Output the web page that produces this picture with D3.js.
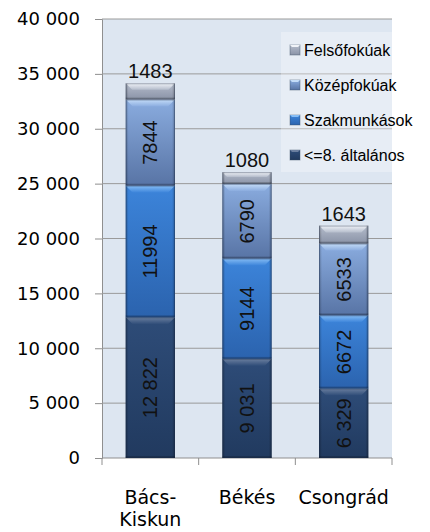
<!DOCTYPE html>
<html>
<head>
<meta charset="utf-8">
<script src="https://cdn.jsdelivr.net/npm/d3@7"></script>
<style>
  html, body { margin: 0; padding: 0; background: #fff; }
  svg { display: block; }
</style>
</head>
<body>
<svg width="430" height="532"></svg>
<script>
// megyék és végzettség szerinti létszámok
const categories = [["Bács-", "Kiskun"], ["Békés"], ["Csongrád"]];
const seriesNames = ["<=8. általános", "Szakmunkások", "Középfokúak", "Felsőfokúak"];
const altalanos = [12822, 9031, 6329];
const szakmunkas = [11994, 9144, 6672];
const kozepfoku = [7844, 6790, 6533];
const felsofoku = [1483, 1080, 1643];
const yTicks = [0, 5000, 10000, 15000, 20000, 25000, 30000, 35000, 40000];

const values = [altalanos, szakmunkas, kozepfoku, felsofoku];

// színek: [felső fény, test teteje, test alja]
const colors = [
  ["#6b7f9f", "#2e4c78", "#213a5f"],
  ["#86bdf5", "#3c84da", "#2b63ae"],
  ["#c4dcf8", "#8aacdf", "#5874a5"],
  ["#f0f3f8", "#b4bccb", "#8a93a7"]
];

const svg = d3.select("svg");
const width = 430, height = 532;
const margin = { top: 19, right: 38, bottom: 74, left: 102 };
const innerW = width - margin.left - margin.right;
const innerH = height - margin.top - margin.bottom;

const defs = svg.append("defs");
colors.forEach((c, i) => {
  const g = defs.append("linearGradient").attr("id", "body" + i)
    .attr("x1", 0).attr("x2", 0).attr("y1", 0).attr("y2", 1);
  g.append("stop").attr("offset", "0%").attr("stop-color", c[1]);
  g.append("stop").attr("offset", "100%").attr("stop-color", c[2]);
  const b = defs.append("linearGradient").attr("id", "bevel" + i)
    .attr("x1", 0).attr("x2", 0).attr("y1", 0).attr("y2", 1);
  b.append("stop").attr("offset", "0%").attr("stop-color", c[0]);
  b.append("stop").attr("offset", "100%").attr("stop-color", c[1]);
  const s = defs.append("linearGradient").attr("id", "side" + i)
    .attr("x1", 0).attr("x2", 1).attr("y1", 0).attr("y2", 0);
  s.append("stop").attr("offset", "0%").attr("stop-color", "#000").attr("stop-opacity", 0.25);
  s.append("stop").attr("offset", "6%").attr("stop-color", "#000").attr("stop-opacity", 0);
  s.append("stop").attr("offset", "94%").attr("stop-color", "#000").attr("stop-opacity", 0);
  s.append("stop").attr("offset", "100%").attr("stop-color", "#000").attr("stop-opacity", 0.25);
});

const g = svg.append("g").attr("transform", `translate(${margin.left},${margin.top})`);

const x = d3.scaleBand().domain(d3.range(categories.length)).range([0, innerW]).padding(0);
const y = d3.scaleLinear().domain([0, 40000]).range([innerH, 0]);
const barW = x.bandwidth() * 0.51;

// háttér
g.append("rect").attr("width", innerW).attr("height", innerH).attr("fill", "#dde6f1");

// rácsvonalak + tengely
const fmtSpace = d => d3.format(",")(d).replace(/,/g, " ");
g.append("g")
  .call(d3.axisLeft(y).tickValues(yTicks).tickSize(7).tickFormat(fmtSpace))
  .call(a => a.select(".domain").attr("stroke", "#8f8f8f"))
  .call(a => a.selectAll(".tick line").attr("stroke", "#8f8f8f"))
  .call(a => a.selectAll(".tick text")
    .attr("x", -22)
    .style("font-family", "DejaVu Sans")
    .style("font-size", "18px")
    .attr("fill", "#000"));

g.append("g").selectAll("line")
  .data(yTicks.filter(t => t > 0))
  .join("line")
  .attr("x1", 0).attr("x2", innerW)
  .attr("y1", d => y(d)).attr("y2", d => y(d))
  .attr("stroke", "#9a9a9a").attr("stroke-width", 1);

const xAxis = g.append("g").attr("transform", `translate(0,${innerH})`);
xAxis.append("line").attr("x1", 0).attr("x2", innerW).attr("stroke", "#8f8f8f");
xAxis.selectAll("line.tk")
  .data(d3.range(categories.length + 1))
  .join("line").attr("class", "tk")
  .attr("x1", d => d * x.step()).attr("x2", d => d * x.step())
  .attr("y1", 0).attr("y2", 7)
  .attr("stroke", "#8f8f8f");

xAxis.selectAll("text.cat")
  .data(categories)
  .join("text").attr("class", "cat")
  .attr("x", (d, i) => x(i) + x.bandwidth() / 2)
  .attr("y", 46)
  .attr("text-anchor", "middle")
  .style("font-family", "DejaVu Sans")
  .style("font-size", "19px")
  .attr("fill", "#000")
  .selectAll("tspan")
  .data(d => d)
  .join("tspan")
  .attr("x", function () { return d3.select(this.parentNode).attr("x"); })
  .attr("dy", (d, i) => i === 0 ? 0 : 22)
  .text(d => d);

// halmozott oszlopok
const stackData = categories.map((c, i) => {
  let acc = 0;
  return values.map((s, k) => {
    const y0 = acc; acc += s[i];
    return { cat: i, k, y0, y1: acc, v: s[i] };
  });
});

const bars = g.append("g");
stackData.flat().forEach(d => {
  const bx = x(d.cat) + (x.bandwidth() - barW) / 2;
  const top = y(d.y1), bot = y(d.y0);
  const h = bot - top;
  const seg = bars.append("g");
  seg.append("rect").attr("x", bx).attr("y", top).attr("width", barW).attr("height", h)
    .attr("fill", `url(#body${d.k})`);
  const bv = Math.min(7, h / 2.5);
  seg.append("path")
    .attr("d", `M${bx},${top}L${bx + barW},${top}L${bx + barW - bv},${top + bv}L${bx + bv},${top + bv}Z`)
    .attr("fill", `url(#bevel${d.k})`);
  seg.append("rect").attr("x", bx).attr("y", top).attr("width", barW).attr("height", h)
    .attr("fill", `url(#side${d.k})`);
  seg.append("rect").attr("x", bx).attr("y", bot - 2).attr("width", barW).attr("height", 2)
    .attr("fill", "#000").attr("opacity", 0.18);
  seg.append("rect").attr("x", bx + 0.5).attr("y", top + 0.5).attr("width", barW - 1).attr("height", h - 1)
    .attr("fill", "none").attr("stroke", "#1c2c44").attr("stroke-opacity", 0.35);

  const cx = bx + barW / 2;
  if (d.k === values.length - 1) {
    seg.append("text")
      .attr("x", cx).attr("y", top - 5)
      .attr("text-anchor", "middle")
      .style("font-family", "Liberation Sans")
      .style("font-size", "20px")
      .attr("fill", "#111")
      .text(d.v);
  } else {
    const cy = (top + bot) / 2;
    seg.append("text")
      .attr("transform", `translate(${cx},${cy}) rotate(-90)`)
      .attr("text-anchor", "middle")
      .attr("dy", "0.35em")
      .style("font-family", "Liberation Sans")
      .style("font-size", "20px")
      .attr("fill", "#111")
      .text(d.k === 0 ? fmtSpace(d.v) : String(d.v));
  }
});

// jelmagyarázat
const legend = svg.append("g").attr("transform", `translate(281,32)`);
legend.append("rect").attr("width", 111).attr("height", 140)
  .attr("fill", "#fff").attr("opacity", 0.3);
const legendOrder = d3.range(seriesNames.length).reverse();
legendOrder.forEach((k, i) => {
  const row = legend.append("g").attr("transform", `translate(0,${18 + i * 35})`);
  row.append("rect").attr("x", 9).attr("y", -5).attr("width", 10).attr("height", 10)
    .attr("fill", `url(#body${k})`).attr("stroke", "#3a4a60").attr("stroke-opacity", 0.4);
  row.append("path")
    .attr("d", "M9,-5L19,-5L17,-3L11,-3Z")
    .attr("fill", colors[k][0]);
  row.append("text")
    .attr("x", 23).attr("y", 0).attr("dy", "0.35em")
    .style("font-family", "Liberation Sans")
    .style("font-size", "16px")
    .attr("fill", "#000")
    .text(seriesNames[k]);
});
</script>
</body>
</html>
